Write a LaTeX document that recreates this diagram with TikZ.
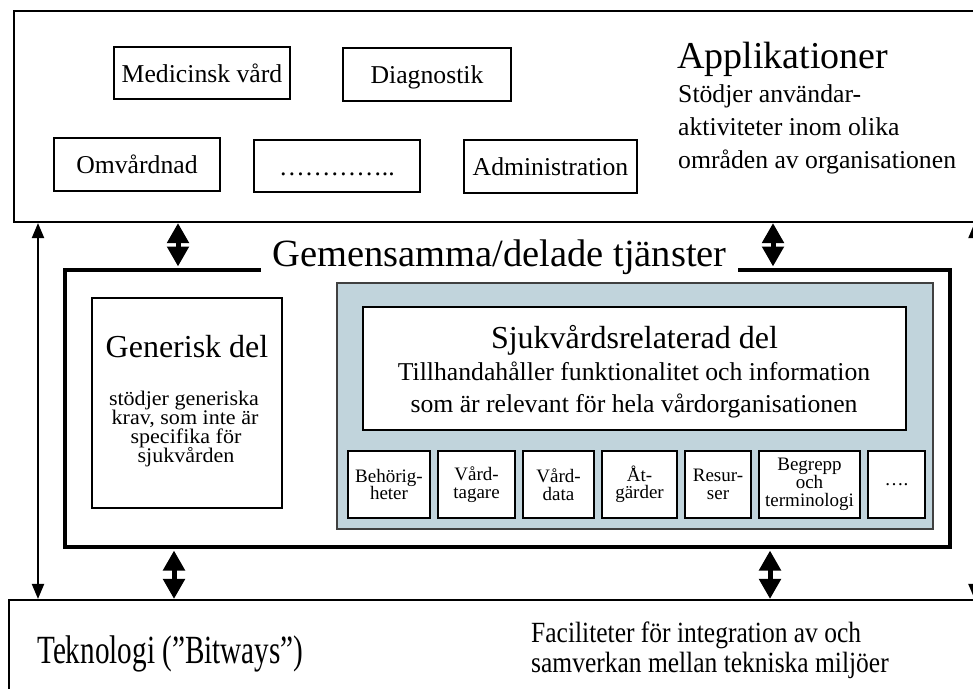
\documentclass[tikz,border=0pt]{standalone}
\usepackage{fontspec}
\setmainfont{Liberation Serif}
\newfontfamily\condA{Liberation Serif}[FakeStretch=0.73]
\newfontfamily\condB{Liberation Serif}[FakeStretch=0.87]
\newfontfamily\wideA{Liberation Serif}[FakeStretch=1.06]
\usetikzlibrary{arrows.meta}
\definecolor{paleblue}{RGB}{193,212,220}
\newcommand\fsz[2]{\fontsize{#1}{#2}\selectfont}
\begin{document}
\begin{tikzpicture}[x=1pt,y=-1pt,
  box/.style={draw,line width=1.1pt,inner sep=0pt,align=center},
  appbox/.style={box,font=\fsz{25.7}{30},text height=18.5pt,text depth=0pt},
  smallbox/.style={box,fill=white,font=\fsz{19}{17.5}},
  thickbox/.style={draw,line width=3.5pt,inner sep=0pt},
  bluebox/.style={draw=black!75,line width=1.2pt,fill=paleblue,inner sep=0pt},
  dblarrow/.style={line width=5pt,{Triangle[width=21pt,length=20pt]}-{Triangle[width=21pt,length=20pt]}},
  thinarrow/.style={line width=2pt,{Triangle[width=12pt,length=15pt]}-{Triangle[width=12pt,length=15pt]}},
  txt/.style={inner sep=0pt,align=left},
  gentxt/.style={txt,anchor=base,font=\wideA\fsz{20.8}{19}}]
\useasboundingbox (0,0) rectangle (973,688);
% Applications
\node[box,minimum width=1086pt,minimum height=211pt] (app) at (557,116.5) {};
\node[appbox,minimum width=176pt,minimum height=52pt] (med) at (202,73) {Medicinsk vård};
\node[appbox,minimum width=168pt,minimum height=53pt] (diag) at (427,74.5) {Diagnostik};
\node[appbox,minimum width=166pt,minimum height=53pt] (omv) at (137,164.5) {Omvårdnad};
\node[appbox,minimum width=166pt,minimum height=52pt] (dots) at (337,166) {…………..};
\node[appbox,minimum width=173pt,minimum height=53pt] (adm) at (550.5,166.5) {Administration};
\node[txt,anchor=base west,font=\fsz{38}{40}] (apptitle) at (677,68) {Applikationer};
\node[txt,anchor=base west,font=\fsz{25.7}{33}] (appl1) at (678,102) {Stödjer användar-};
\node[txt,anchor=base west,font=\fsz{25.7}{33}] (appl2) at (678,135) {aktiviteter inom olika};
\node[txt,anchor=base west,font=\fsz{25.7}{33}] (appl3) at (678,168) {områden av organisationen};
% Shared services
\node[thickbox,minimum width=885pt,minimum height=277pt] (shared) at (507.5,408.5) {};
\node[fill=white,inner xsep=11pt,inner ysep=2pt,anchor=base,font=\fsz{38.5}{40}] (title) at (499.5,266) {Gemensamma/delade tjänster};
\node[box,minimum width=190pt,minimum height=210pt] (gen) at (187,403) {};
\node[txt,anchor=base,font=\fsz{32}{34}] (gentitle) at (187,357) {Generisk del};
\node[gentxt] (gl1) at (184,405) {stödjer generiska};
\node[gentxt] (gl2) at (185,424) {krav, som inte är};
\node[gentxt] (gl3) at (186,443) {specifika för};
\node[gentxt] (gl4) at (186,462) {sjukvården};
\node[bluebox,minimum width=596pt,minimum height=246pt] (blue) at (635,406) {};
\node[box,fill=white,minimum width=543pt,minimum height=123pt] (sjuk) at (634.5,368.5) {};
\node[txt,anchor=base,font=\fsz{32}{34}] (sjuktitle) at (634.5,348) {Sjukvårdsrelaterad del};
\node[txt,anchor=base,font=\fsz{25.7}{32}] (sl1) at (634,380) {Tillhandahåller funktionalitet och information};
\node[txt,anchor=base,font=\fsz{25.7}{32}] (sl2) at (634,412) {som är relevant för hela vårdorganisationen};
\node[smallbox,minimum width=82pt,minimum height=67pt] (beh) at (389,484.5) {Behörig-\\heter};
\node[smallbox,minimum width=77pt,minimum height=67pt] (vtag) at (476.5,484.5) {Vård-\\tagare};
\node[smallbox,minimum width=71pt,minimum height=67pt] (vdata) at (558.5,484.5) {Vård-\\data};
\node[smallbox,minimum width=75pt,minimum height=67pt] (atg) at (639.5,484.5) {Åt-\\gärder};
\node[smallbox,minimum width=66pt,minimum height=67pt] (res) at (718,484.5) {Resur-\\ser};
\node[smallbox,minimum width=101pt,minimum height=67pt,font=\fsz{19}{18}] (begr) at (809.5,484.5) {Begrepp\\och\\terminologi};
\node[smallbox,minimum width=57pt,minimum height=67pt] (more) at (896.5,484.5) {….};
% Technology
\node[box,minimum width=1091pt,minimum height=120pt] (tech) at (554.5,660) {};
\node[txt,anchor=base west,font=\condA\fsz{40}{42}] (techtitle) at (37,663) {Teknologi (”Bitways”)};
\node[txt,anchor=base west,font=\condB\fsz{29.3}{30}] (tl1) at (531,642) {Faciliteter för integration av och};
\node[txt,anchor=base west,font=\condB\fsz{29.3}{30}] (tl2) at (531,672) {samverkan mellan tekniska miljöer};
% Arrows
\coordinate (xa) at (178,0);
\coordinate (xb) at (773,0);
\coordinate (xc) at (174,0);
\coordinate (xd) at (770,0);
\coordinate (xl) at (38,0);
\coordinate (xr) at (974.5,0);
\draw[dblarrow,shorten <=0.5pt,shorten >=1.75pt] (xa |- app.south) -- (xa |- shared.north);
\draw[dblarrow,shorten <=0.5pt,shorten >=1.75pt] (xb |- app.south) -- (xb |- shared.north);
\draw[dblarrow,shorten <=1.75pt,shorten >=0.5pt] (xc |- shared.south) -- (xc |- tech.north);
\draw[dblarrow,shorten <=1.75pt,shorten >=0.5pt] (xd |- shared.south) -- (xd |- tech.north);
\draw[thinarrow,shorten <=0.5pt,shorten >=0.5pt] (xl |- app.south) -- (xl |- tech.north);
\draw[thinarrow,shorten <=0.5pt,shorten >=0.5pt] (xr |- app.south) -- (xr |- tech.north);
\end{tikzpicture}
\end{document}
